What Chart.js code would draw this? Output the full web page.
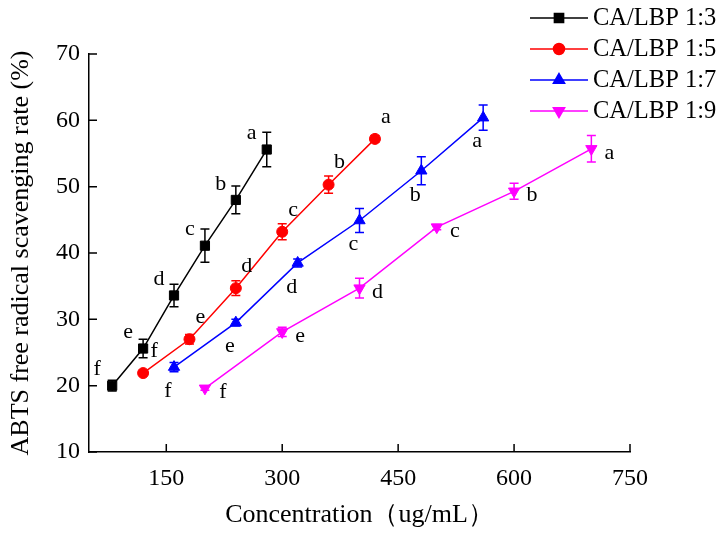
<!DOCTYPE html>
<html>
<head>
<meta charset="utf-8">
<script src="https://cdn.jsdelivr.net/npm/chart.js@4.4.1/dist/chart.umd.min.js"></script>
<style>
  html, body { margin: 0; padding: 0; background: #fff; }
  #wrap { width: 726px; height: 534px; }
</style>
</head>
<body>
<div id="wrap"><canvas id="abtsChart" width="726" height="534"></canvas></div>
<script>
// concentration (ug/mL) for each ratio
const conc13 = [80, 120, 160, 200, 240, 280];
const conc15 = [120, 180, 240, 300, 360, 420];
const conc17 = [160, 240, 320, 400, 480, 560];
const conc19 = [200, 300, 400, 500, 600, 700];

// scavenging rate (%)
const rate13 = [20.0, 25.6, 33.6, 41.1, 48.0, 55.6];
const rate15 = [21.9, 27.0, 34.7, 43.2, 50.3, 57.2];
const rate17 = [22.8, 29.5, 38.5, 44.9, 52.4, 60.4];
const rate19 = [19.6, 28.1, 34.7, 43.9, 49.3, 55.7];

// error (+/-)
const err13 = [0.8, 1.4, 1.7, 2.5, 2.1, 2.6];
const err15 = [0.3, 0.7, 1.1, 1.2, 1.3, 0.5];
const err17 = [0.7, 0.5, 0.6, 1.8, 2.1, 1.9];
const err19 = [0.3, 0.7, 1.5, 0.4, 1.2, 2.0];

const letters = ['f', 'e', 'd', 'c', 'b', 'a'];
const seriesLabels = ['CA/LBP 1:3', 'CA/LBP 1:5', 'CA/LBP 1:7', 'CA/LBP 1:9'];
const xTicks = [150, 300, 450, 600, 750];
const yTicks = [10, 20, 30, 40, 50, 60, 70];

const SERIF = '"Liberation Serif", "Times New Roman", serif';

const toPoints = (xs, ys) => xs.map((x, i) => ({ x: x, y: ys[i] }));

const makeSet = (label, xs, ys, errs, color, style, radius, rotation, dx, dy) => ({
    label: label,
    data: toPoints(xs, ys),
    errors: errs,
    borderColor: color,
    backgroundColor: color,
    borderWidth: 1.5,
    pointStyle: style,
    pointRadius: radius,
    pointRotation: rotation,
    pointBorderWidth: 1,
    pointBackgroundColor: color,
    pointBorderColor: color,
    letterDx: dx,
    letterDy: dy,
    tension: 0
});

// error bars, significance letters, inward ticks and the legend
const extrasPlugin = {
    id: 'extras',
    afterDatasetsDraw(chart) {
        const ctx = chart.ctx;
        const xs = chart.scales.x, ys = chart.scales.y;
        ctx.save();
        chart.data.datasets.forEach((ds) => {
            ctx.strokeStyle = ds.borderColor;
            ctx.lineWidth = 1.5;
            ds.data.forEach((p, i) => {
                const px = xs.getPixelForValue(p.x);
                const top = ys.getPixelForValue(p.y + ds.errors[i]);
                const bot = ys.getPixelForValue(p.y - ds.errors[i]);
                ctx.beginPath();
                ctx.moveTo(px, top); ctx.lineTo(px, bot);
                ctx.moveTo(px - 4.5, top); ctx.lineTo(px + 4.5, top);
                ctx.moveTo(px - 4.5, bot); ctx.lineTo(px + 4.5, bot);
                ctx.stroke();
            });
            ctx.fillStyle = '#000';
            ctx.font = '22px ' + SERIF;
            ctx.textAlign = 'center';
            ctx.textBaseline = 'middle';
            ds.data.forEach((p, i) => {
                const px = xs.getPixelForValue(p.x);
                const py = ys.getPixelForValue(p.y);
                ctx.fillText(letters[i], px + ds.letterDx, py + ds.letterDy);
            });
        });

        // inward tick marks
        ctx.strokeStyle = '#000';
        ctx.lineWidth = 1.5;
        ctx.beginPath();
        xTicks.forEach((v) => {
            const px = xs.getPixelForValue(v);
            ctx.moveTo(px, ys.bottom); ctx.lineTo(px, ys.bottom - 8);
        });
        yTicks.forEach((v) => {
            const py = ys.getPixelForValue(v);
            ctx.moveTo(xs.left, py); ctx.lineTo(xs.left + 8, py);
        });
        ctx.stroke();

        // legend
        ctx.font = '24.5px ' + SERIF;
        ctx.textAlign = 'left';
        ctx.textBaseline = 'middle';
        chart.data.datasets.forEach((ds, i) => {
            const y = 18 + i * 31;
            ctx.strokeStyle = ds.borderColor;
            ctx.lineWidth = 1.5;
            ctx.beginPath();
            ctx.moveTo(530, y); ctx.lineTo(588, y);
            ctx.stroke();
            ctx.fillStyle = ds.borderColor;
            Chart.helpers.drawPoint(ctx, {
                pointStyle: ds.pointStyle,
                radius: ds.pointRadius,
                rotation: ds.pointRotation,
                borderWidth: 1
            }, 559, y);
            ctx.fillStyle = '#000';
            ctx.fillText(ds.label, 593, y + 1);
        });
        ctx.restore();
    }
};

const ctx = document.getElementById('abtsChart').getContext('2d');
new Chart(ctx, {
    type: 'line',
    data: {
        datasets: [
            makeSet(seriesLabels[0], conc13, rate13, err13, '#000000', 'rect', 6.5, 0, -15, -16),
            makeSet(seriesLabels[1], conc15, rate15, err15, '#ff0000', 'circle', 5.5, 0, 11, -22),
            makeSet(seriesLabels[2], conc17, rate17, err17, '#0000ff', 'triangle', 6.5, 0, -6, 24),
            makeSet(seriesLabels[3], conc19, rate19, err19, '#ff00ff', 'triangle', 6.5, 180, 18, 4)
        ]
    },
    options: {
        responsive: false,
        animation: false,
        devicePixelRatio: 1,
        layout: { padding: { top: 54, right: 96, left: 0, bottom: 0 } },
        plugins: {
            legend: { display: false },
            tooltip: { enabled: false }
        },
        scales: {
            x: {
                type: 'linear',
                min: 50,
                max: 750,
                afterBuildTicks: (scale) => { scale.ticks = xTicks.map((v) => ({ value: v })); },
                afterFit: (scale) => { scale.height = 82; },
                grid: { display: false, drawTicks: false },
                border: { display: true, color: '#000', width: 1.5 },
                ticks: { color: '#000', padding: 12, font: { family: SERIF, size: 24 } },
                title: {
                    display: true,
                    text: 'Concentration（ug/mL）',
                    color: '#000',
                    font: { family: SERIF, size: 26 },
                    padding: { top: 0, bottom: 3 }
                }
            },
            y: {
                type: 'linear',
                min: 10,
                max: 70,
                afterBuildTicks: (scale) => { scale.ticks = yTicks.map((v) => ({ value: v })); },
                afterFit: (scale) => { scale.width = 89; },
                grid: { display: false, drawTicks: false },
                border: { display: true, color: '#000', width: 1.5 },
                ticks: { color: '#000', padding: 9, font: { family: SERIF, size: 24 } },
                title: {
                    display: true,
                    text: 'ABTS free radical scavenging rate (%)',
                    color: '#000',
                    font: { family: SERIF, size: 26 },
                    padding: { top: 6, bottom: 0 }
                }
            }
        }
    },
    plugins: [extrasPlugin]
});
</script>
</body>
</html>
